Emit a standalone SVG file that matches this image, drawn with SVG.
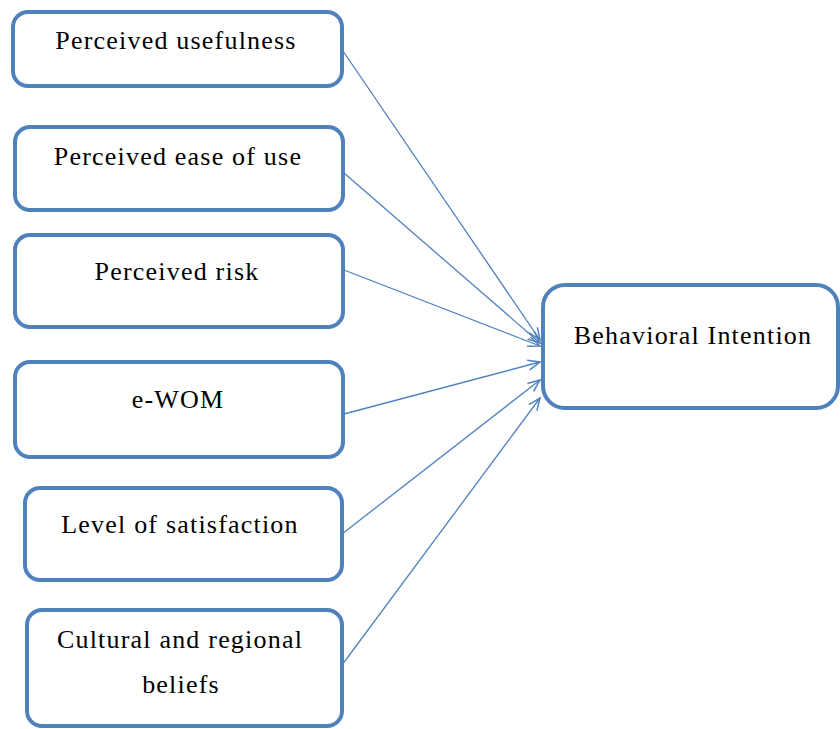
<svg xmlns="http://www.w3.org/2000/svg" width="840" height="729" viewBox="0 0 840 729">
  <defs>
    <marker id="arr" markerUnits="userSpaceOnUse" markerWidth="16" markerHeight="14" viewBox="-14 -7 16 14" refX="0" refY="0" orient="auto">
      <path d="M-12,-5 L0,0 L-12,5" fill="none" stroke="#4f81bd" stroke-width="1.5"/>
    </marker>
  </defs>
  <style>
    .box { fill: #ffffff; stroke: #4f81bd; stroke-width: 4; }
    .lbl { font-family: "Liberation Serif", "Times New Roman", serif; font-size: 26px; fill: #000000; text-anchor: middle; letter-spacing: 1.2px; }
    .conn { fill: none; stroke: #4f81bd; stroke-width: 1.3; marker-end: url(#arr); }
  </style>
  <rect width="840" height="729" fill="#ffffff"/>

  <g id="connectors">
    <line class="conn" x1="343" y1="51" x2="540" y2="340"/>
    <line class="conn" x1="344" y1="173" x2="540" y2="343"/>
    <line class="conn" x1="344" y1="270" x2="540" y2="346"/>
    <line class="conn" x1="344" y1="414" x2="540" y2="362"/>
    <line class="conn" x1="342" y1="534" x2="540" y2="380"/>
    <line class="conn" x1="342" y1="665" x2="540" y2="398"/>
  </g>

  <g id="n1">
    <rect class="box" x="13" y="12" width="329" height="74" rx="15"/>
    <text class="lbl" x="176" y="49">Perceived usefulness</text>
  </g>
  <g id="n2">
    <rect class="box" x="15" y="127" width="328" height="83" rx="15"/>
    <text class="lbl" x="178" y="165">Perceived ease of use</text>
  </g>
  <g id="n3">
    <rect class="box" x="15" y="235" width="328" height="92" rx="15"/>
    <text class="lbl" x="177" y="280">Perceived risk</text>
  </g>
  <g id="n4">
    <rect class="box" x="15" y="362" width="328" height="95" rx="15"/>
    <text class="lbl" x="178" y="408">e-WOM</text>
  </g>
  <g id="n5">
    <rect class="box" x="25" y="488" width="317" height="92" rx="15"/>
    <text class="lbl" x="180" y="533">Level of satisfaction</text>
  </g>
  <g id="n6">
    <rect class="box" x="27" y="610" width="315" height="116" rx="15"/>
    <text class="lbl" x="180" y="648">Cultural and regional</text>
    <text class="lbl" x="181" y="693">beliefs</text>
  </g>
  <g id="n7">
    <rect class="box" x="543" y="285" width="295" height="123" rx="22"/>
    <text class="lbl" x="693" y="344">Behavioral Intention</text>
  </g>
</svg>
